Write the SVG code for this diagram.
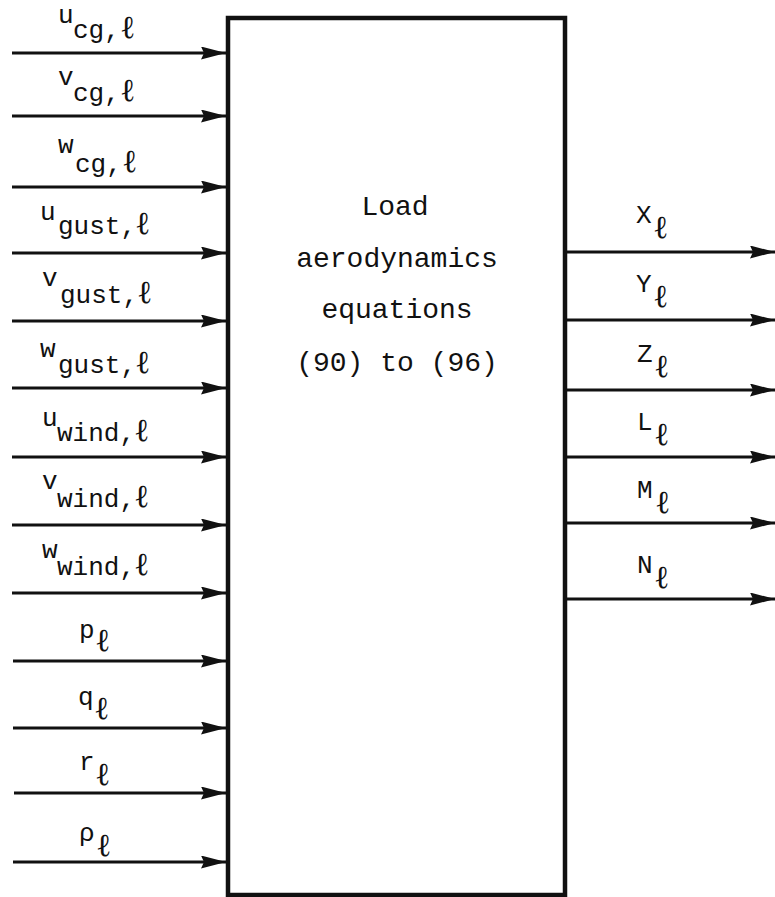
<svg xmlns="http://www.w3.org/2000/svg" width="775" height="897" viewBox="0 0 775 897">
<style>
  text { font-family: "Liberation Mono", "DejaVu Sans Mono", monospace; fill: #111; }
  .lbl { font-size: 26px; }
  .ell { font-family: "DejaVu Serif", "Liberation Serif", serif; font-size: 32px; }
  .box-text { font-size: 28px; text-anchor: middle; }
  .conn { stroke: #111; stroke-width: 3; fill: none; marker-end: url(#arrow); }
  .box { fill: #fff; stroke: #111; stroke-width: 4.5; }
</style>
<defs>
  <marker id="arrow" markerUnits="userSpaceOnUse" markerWidth="25" markerHeight="13" viewBox="0 0 25 13" refX="25" refY="6.5" orient="auto">
    <path d="M0,0 L25,6.5 L0,13 L3,6.5 Z" fill="#111"/>
  </marker>
</defs>
<rect width="775" height="897" fill="#fff"/>

<g id="connectors">
  <path class="conn" d="M12,53 H226"/>
  <path class="conn" d="M12,116 H226"/>
  <path class="conn" d="M12,187 H226"/>
  <path class="conn" d="M12,253 H226"/>
  <path class="conn" d="M12,321 H226"/>
  <path class="conn" d="M12,388 H226"/>
  <path class="conn" d="M12,457 H226"/>
  <path class="conn" d="M12,525 H226"/>
  <path class="conn" d="M12,593 H226"/>
  <path class="conn" d="M13,661 H226"/>
  <path class="conn" d="M13,728 H226"/>
  <path class="conn" d="M14,793 H226"/>
  <path class="conn" d="M13,862 H226"/>
  <path class="conn" d="M566,252 H775"/>
  <path class="conn" d="M566,320 H775"/>
  <path class="conn" d="M566,390 H775"/>
  <path class="conn" d="M566,457 H775"/>
  <path class="conn" d="M566,523 H775"/>
  <path class="conn" d="M566,599 H775"/>
</g>

<g id="block">
  <rect class="box" x="228" y="18" width="337" height="877"/>
  <text class="box-text" x="395" y="215">Load</text>
  <text class="box-text" x="397" y="267">aerodynamics</text>
  <text class="box-text" x="397" y="318">equations</text>
  <text class="box-text" x="397" y="371">(90) to (96)</text>
</g>

<g id="in-u-cg"><text class="lbl"><tspan x="58" y="23">u</tspan><tspan x="73" y="38">cg,</tspan><tspan class="ell" x="120" y="38">ℓ</tspan></text></g>
<g id="in-v-cg"><text class="lbl"><tspan x="58" y="85">v</tspan><tspan x="73" y="101">cg,</tspan><tspan class="ell" x="120" y="101">ℓ</tspan></text></g>
<g id="in-w-cg"><text class="lbl"><tspan x="58" y="153">w</tspan><tspan x="75" y="172">cg,</tspan><tspan class="ell" x="122" y="172">ℓ</tspan></text></g>
<g id="in-u-gust"><text class="lbl"><tspan x="40" y="220">u</tspan><tspan x="58" y="234">gust,</tspan><tspan class="ell" x="135" y="234">ℓ</tspan></text></g>
<g id="in-v-gust"><text class="lbl"><tspan x="42" y="286">v</tspan><tspan x="60" y="303">gust,</tspan><tspan class="ell" x="137" y="303">ℓ</tspan></text></g>
<g id="in-w-gust"><text class="lbl"><tspan x="40" y="357">w</tspan><tspan x="58" y="373">gust,</tspan><tspan class="ell" x="135" y="373">ℓ</tspan></text></g>
<g id="in-u-wind"><text class="lbl"><tspan x="42" y="426">u</tspan><tspan x="57" y="441">wind,</tspan><tspan class="ell" x="134" y="441">ℓ</tspan></text></g>
<g id="in-v-wind"><text class="lbl"><tspan x="42" y="489">v</tspan><tspan x="57" y="507">wind,</tspan><tspan class="ell" x="134" y="507">ℓ</tspan></text></g>
<g id="in-w-wind"><text class="lbl"><tspan x="42" y="558">w</tspan><tspan x="57" y="575">wind,</tspan><tspan class="ell" x="134" y="575">ℓ</tspan></text></g>
<g id="in-p"><text class="lbl"><tspan x="79" y="638">p</tspan><tspan class="ell" x="95" y="651">ℓ</tspan></text></g>
<g id="in-q"><text class="lbl"><tspan x="78" y="705">q</tspan><tspan class="ell" x="94" y="719">ℓ</tspan></text></g>
<g id="in-r"><text class="lbl"><tspan x="79" y="770">r</tspan><tspan class="ell" x="95" y="785">ℓ</tspan></text></g>
<g id="in-rho"><text class="lbl"><tspan x="79" y="841">ρ</tspan><tspan class="ell" x="96" y="856">ℓ</tspan></text></g>

<g id="out-X"><text class="lbl"><tspan x="636" y="223">X</tspan><tspan class="ell" x="653" y="238">ℓ</tspan></text></g>
<g id="out-Y"><text class="lbl"><tspan x="636" y="292">Y</tspan><tspan class="ell" x="653" y="307">ℓ</tspan></text></g>
<g id="out-Z"><text class="lbl"><tspan x="637" y="362">Z</tspan><tspan class="ell" x="654" y="377">ℓ</tspan></text></g>
<g id="out-L"><text class="lbl"><tspan x="637" y="430">L</tspan><tspan class="ell" x="654" y="445">ℓ</tspan></text></g>
<g id="out-M"><text class="lbl"><tspan x="637" y="498">M</tspan><tspan class="ell" x="655" y="513">ℓ</tspan></text></g>
<g id="out-N"><text class="lbl"><tspan x="637" y="573">N</tspan><tspan class="ell" x="654" y="588">ℓ</tspan></text></g>
</svg>
